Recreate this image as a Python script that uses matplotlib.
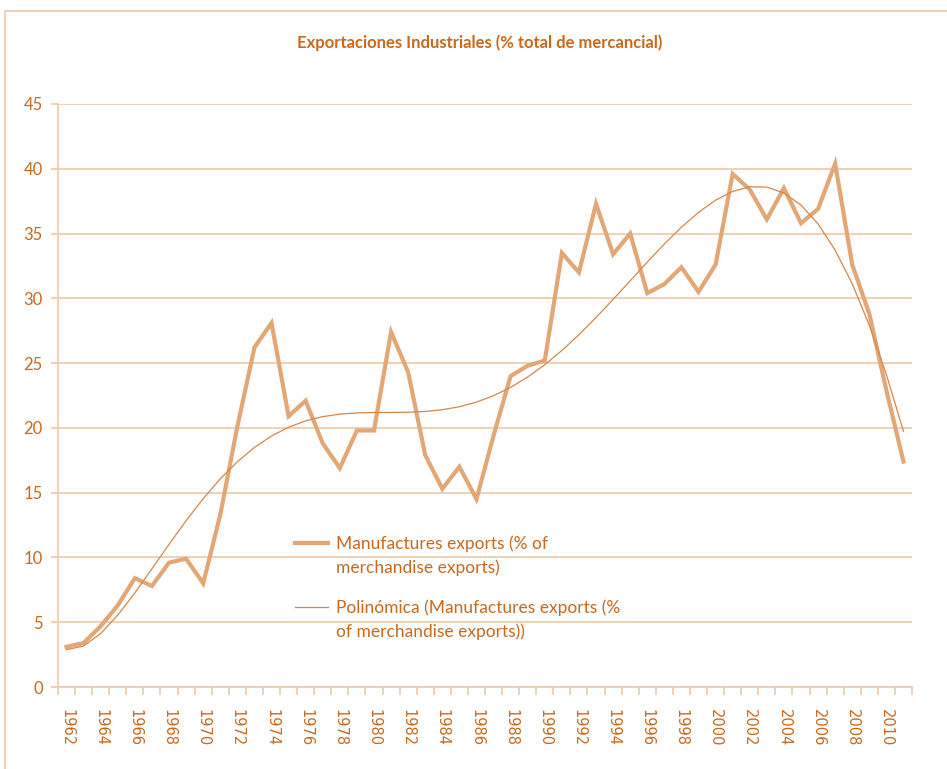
import numpy as np
import matplotlib
matplotlib.use("Agg")
from matplotlib import pyplot as plt
from matplotlib.patches import Rectangle

years = list(range(1962, 2012))
manuf = [3.1, 3.4, 4.7, 6.3, 8.4, 7.8, 9.6, 9.9, 8.0, 13.3,
         20.1, 26.2, 28.1, 20.9, 22.1, 18.8, 16.9, 19.8, 19.8, 27.4,
         24.3, 17.9, 15.3, 17.0, 14.5, 19.4, 24.0, 24.8, 25.2, 33.5,
         32.0, 37.3, 33.4, 35.0, 30.4, 31.1, 32.4, 30.5, 32.6, 39.6,
         38.4, 36.1, 38.5, 35.8, 36.9, 40.4, 32.6, 28.8, 22.9, 17.4]

txt = '#C8691E'
main_c = '#E3A775'
trend_c = '#D3884A'
grid_c = '#EBC9A8'

plt.rcParams['font.family'] = ['Lato', 'DejaVu Sans']

fig = plt.figure(figsize=(9.47, 7.69), dpi=100)
fig.patches.append(Rectangle((5 / 947, -0.1), 1.2, 1 - 11 / 769 + 0.1,
                             transform=fig.transFigure, fill=False,
                             edgecolor='#EBC9A8', lw=1.2))
ax = fig.add_axes([58 / 947, 1 - 687 / 769, 854 / 947, 583 / 769])

x = np.arange(len(years))
# Excel-style polynomial trend (order 6) fitted on 1..n
xs = (x + 1 - 25.5) / 25.0
coef = np.polyfit(xs, manuf, 6)
trend = np.polyval(coef, xs)

ax.plot(x, manuf, '-', color=main_c, lw=3.0, solid_joinstyle='miter',
        label='Manufactures exports (% of\nmerchandise exports)')
ax.plot(x, trend, '-', color=trend_c, lw=0.9,
        label='Polinómica (Manufactures exports (%\nof merchandise exports))')

ax.set_xlim(-0.5, len(years) - 0.5)
ax.set_ylim(0, 45)
ax.set_yticks(np.arange(0, 46, 5))
ax.yaxis.grid(True, color=grid_c, lw=1.2)
ax.set_axisbelow(True)

ax.set_xticks(x[::2])
ax.set_xticklabels([str(y) for y in years[::2]], rotation=270)
ax.set_xticks(np.arange(-0.5, len(years)), minor=True)
ax.tick_params(axis='x', which='major', length=0, pad=16, labelsize=10.5,
               labelcolor=txt, labelfontfamily='DejaVu Sans')
ax.tick_params(axis='x', which='minor', length=6, color=grid_c, width=1.2, direction='out')
ax.tick_params(axis='y', length=5, color=grid_c, width=1.2, labelsize=12, labelcolor=txt, pad=6)

for s in ['top', 'right']:
    ax.spines[s].set_visible(False)
for s in ['left', 'bottom']:
    ax.spines[s].set_color(grid_c)
    ax.spines[s].set_linewidth(1.2)

fig.text(480 / 947, 1 - 43 / 769, 'Exportaciones Industriales (% total de mercancial)',
         ha='center', va='center', fontsize=12, fontweight='bold', color=txt)

leg = ax.legend(loc='upper left', bbox_to_anchor=(288 / 947, 1 - 528 / 769),
                bbox_transform=fig.transFigure, frameon=False, fontsize=12.5,
                handlelength=1.9, handletextpad=0.45, labelspacing=1.35,
                borderaxespad=0)
for t in leg.get_texts():
    t.set_color(txt)
    t.set_linespacing(1.55)
# put the legend keys level with the first line of each label
for ln in leg.get_lines():
    ln.set_ydata(np.asarray(ln.get_ydata()) + 9)

fig.savefig('out.png', dpi=100)
